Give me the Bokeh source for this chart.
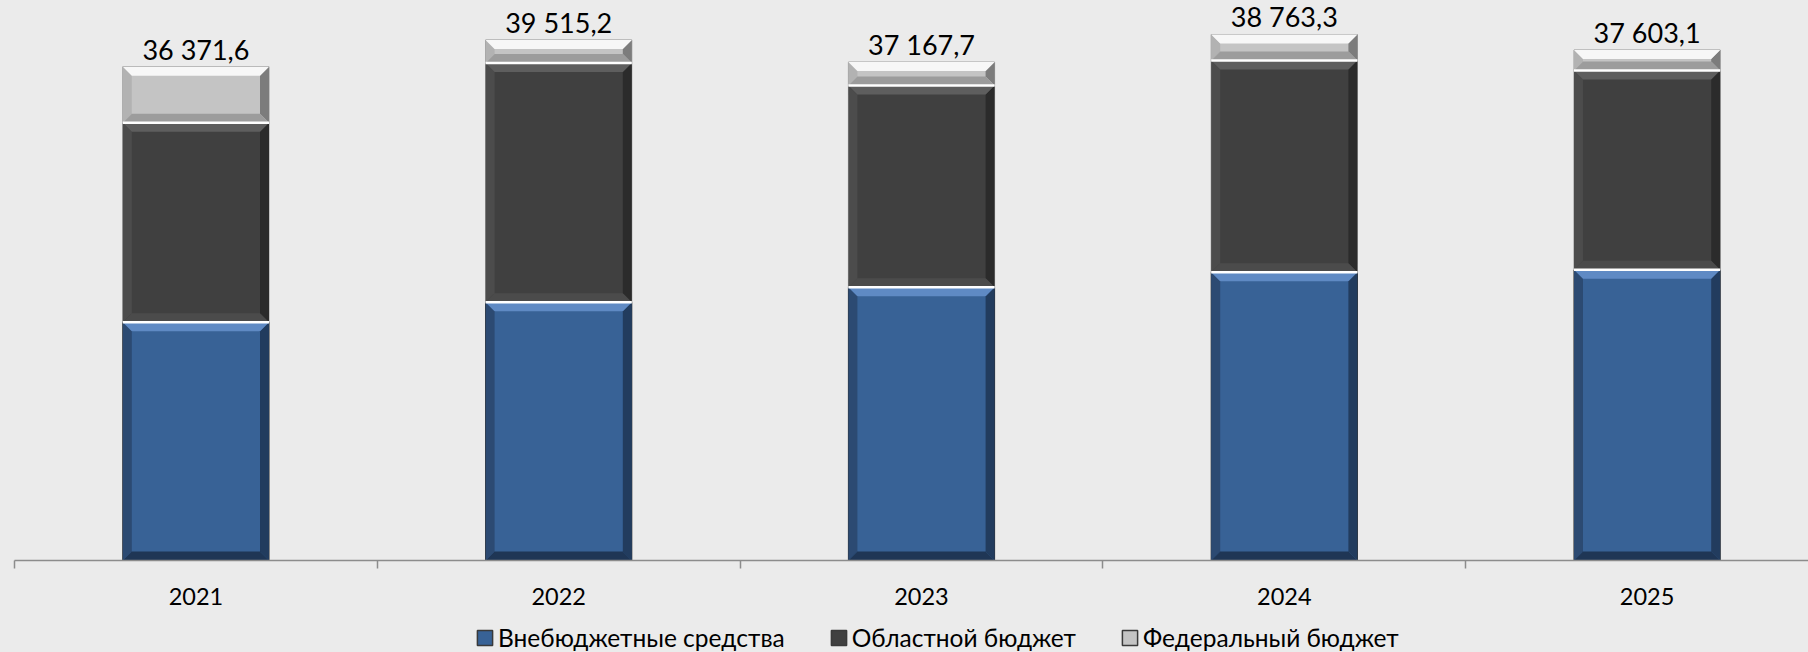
import numpy as np
from bokeh.plotting import figure
from bokeh.layouts import column
from bokeh.models import ColumnDataSource, Range1d, FixedTicker, Legend, LegendItem
from bokeh.core.properties import value
from bokeh.embed import file_html
from bokeh.resources import INLINE

years = ["2021", "2022", "2023", "2024", "2025"]
vnebudget = [17550, 19020, 20130, 21230, 21410]
oblast = [14690, 17630, 14860, 15590, 14680]
federal = [4130, 1690, 1720, 1920, 1510]
total_labels = ["36 371,6", "39 515,2", "37 167,7", "38 763,3", "37 603,1"]
series_names = ["Внебюджетные средства", "Областной бюджет", "Федеральный бюджет"]

BG = "#EBEBEB"
FONT = "Lato"
W = 1808
MAIN_H = 620
LEG_H = 32
frame_left = 14
frame_w = W - frame_left
frame_h = 560
cat_px = 362.8
y_per_px = 73.65

p = figure(width=W, height=MAIN_H, output_backend="svg", toolbar_location=None,
           x_range=Range1d(0, frame_w / cat_px), y_range=Range1d(0, frame_h * y_per_px),
           min_border_left=frame_left, min_border_right=0, min_border_top=0,
           min_border_bottom=MAIN_H - frame_h)
p.background_fill_color = BG
p.border_fill_color = BG
p.outline_line_color = None
p.xgrid.visible = False
p.ygrid.visible = False
p.yaxis.visible = False

centers = np.arange(len(years)) + 0.5
bw = 0.403
hw = bw / 2
bx = 9 / cat_px
by = 9 * y_per_px

segs = [np.array(vnebudget, float), np.array(oblast, float), np.array(federal, float)]
styles = [
    dict(fill="#386296", top="#5F8AC4", bottom="#1F3655", left="#2C4A72", right="#223C5E", line="#2A2A2A"),
    dict(fill="#404040", top="#5E5E5E", bottom="#4B4B4B", left="#4C4C4C", right="#2B2B2B", line="#9A9A9A"),
    dict(fill="#C4C4C4", top="#F7F7F7", bottom="#9C9C9C", left="#B2B2B2", right="#7C7C7C", line="#9A9A9A"),
]

bottom = np.zeros(len(years))
renderers = []
for seg, st in zip(segs, styles):
    top = bottom + seg
    src = ColumnDataSource(dict(x=centers, top=top, bottom=bottom))
    r = p.vbar(x="x", top="top", bottom="bottom", width=bw, source=src,
               fill_color=st["fill"], line_color=st["line"], line_width=1)
    renderers.append(r)
    bands = {"top": ([], []), "bottom": ([], []), "left": ([], []), "right": ([], [])}
    for c, y0, y1 in zip(centers, bottom, top):
        bands["top"][0].append([c - hw, c + hw, c + hw - bx, c - hw + bx])
        bands["top"][1].append([y1, y1, y1 - by, y1 - by])
        bands["bottom"][0].append([c - hw, c + hw, c + hw - bx, c - hw + bx])
        bands["bottom"][1].append([y0, y0, y0 + by, y0 + by])
        bands["left"][0].append([c - hw, c - hw, c - hw + bx, c - hw + bx])
        bands["left"][1].append([y0, y1, y1 - by, y0 + by])
        bands["right"][0].append([c + hw, c + hw, c + hw - bx, c + hw - bx])
        bands["right"][1].append([y0, y1, y1 - by, y0 + by])
    for key in ["left", "right", "bottom", "top"]:
        p.patches(xs=bands[key][0], ys=bands[key][1], fill_color=st[key], line_color=None)
    bottom = top

# white separators between stacked segments
sep1 = np.array(vnebudget, float)
sep2 = sep1 + np.array(oblast, float)
p.segment(x0=centers - hw, x1=centers + hw, y0=sep1, y1=sep1, line_color="white", line_width=2.5)
p.segment(x0=centers - hw, x1=centers + hw, y0=sep2, y1=sep2, line_color="white", line_width=2.5)

lab_src = ColumnDataSource(dict(x=centers, y=bottom, t=total_labels))
p.text(x="x", y="y", text="t", source=lab_src, text_align="center", text_baseline="bottom",
       y_offset=-1, text_font=value(FONT), text_font_size="27px", text_color="black")

ax = p.xaxis[0]
ax.ticker = FixedTicker(ticks=list(centers), minor_ticks=list(np.arange(len(years) + 1)))
ax.major_label_overrides = {float(c): y for c, y in zip(centers, years)}
ax.major_tick_out = 0
ax.major_tick_in = 0
ax.minor_tick_out = 8
ax.minor_tick_in = 0
ax.minor_tick_line_color = "#8C8C8C"
ax.minor_tick_line_width = 1.5
ax.axis_line_color = "#8C8C8C"
ax.axis_line_width = 1.5
ax.major_label_text_font = FONT
ax.major_label_text_font_size = "23.5px"
ax.major_label_text_color = "black"
ax.major_label_standoff = 19

# legend strip
lg = figure(width=W, height=LEG_H, output_backend="svg", toolbar_location=None,
            x_range=Range1d(0, 1), y_range=Range1d(0, 1),
            x_axis_location=None, y_axis_location=None,
            min_border_left=0, min_border_right=0, min_border_top=0, min_border_bottom=0)
lg.background_fill_color = BG
lg.border_fill_color = BG
lg.outline_line_color = None
lg.xgrid.visible = False
lg.ygrid.visible = False
leg_renderers = []
for st in styles:
    leg_renderers.append(lg.vbar(x=[0.5], top=[0.0], bottom=[0.0], width=0.0,
                                 fill_color=st["fill"], line_color="#3A3A3A", line_width=1.5))
legend = Legend(items=[LegendItem(label=n, renderers=[r]) for n, r in zip(series_names, leg_renderers)],
                orientation="horizontal", location=(461, 0), padding=0, margin=0, spacing=44,
                glyph_width=19, glyph_height=19, label_standoff=4,
                label_text_font=FONT, label_text_font_size="24.5px", label_text_color="black",
                background_fill_alpha=0, border_line_color=None)
lg.add_layout(legend, "center")

layout = column(p, lg, spacing=0)
html = file_html(layout, INLINE)
html = html.replace("<head>", "<head><style>html,body{background:#EBEBEB;}</style>", 1)
open("out.html", "w").write(html)
